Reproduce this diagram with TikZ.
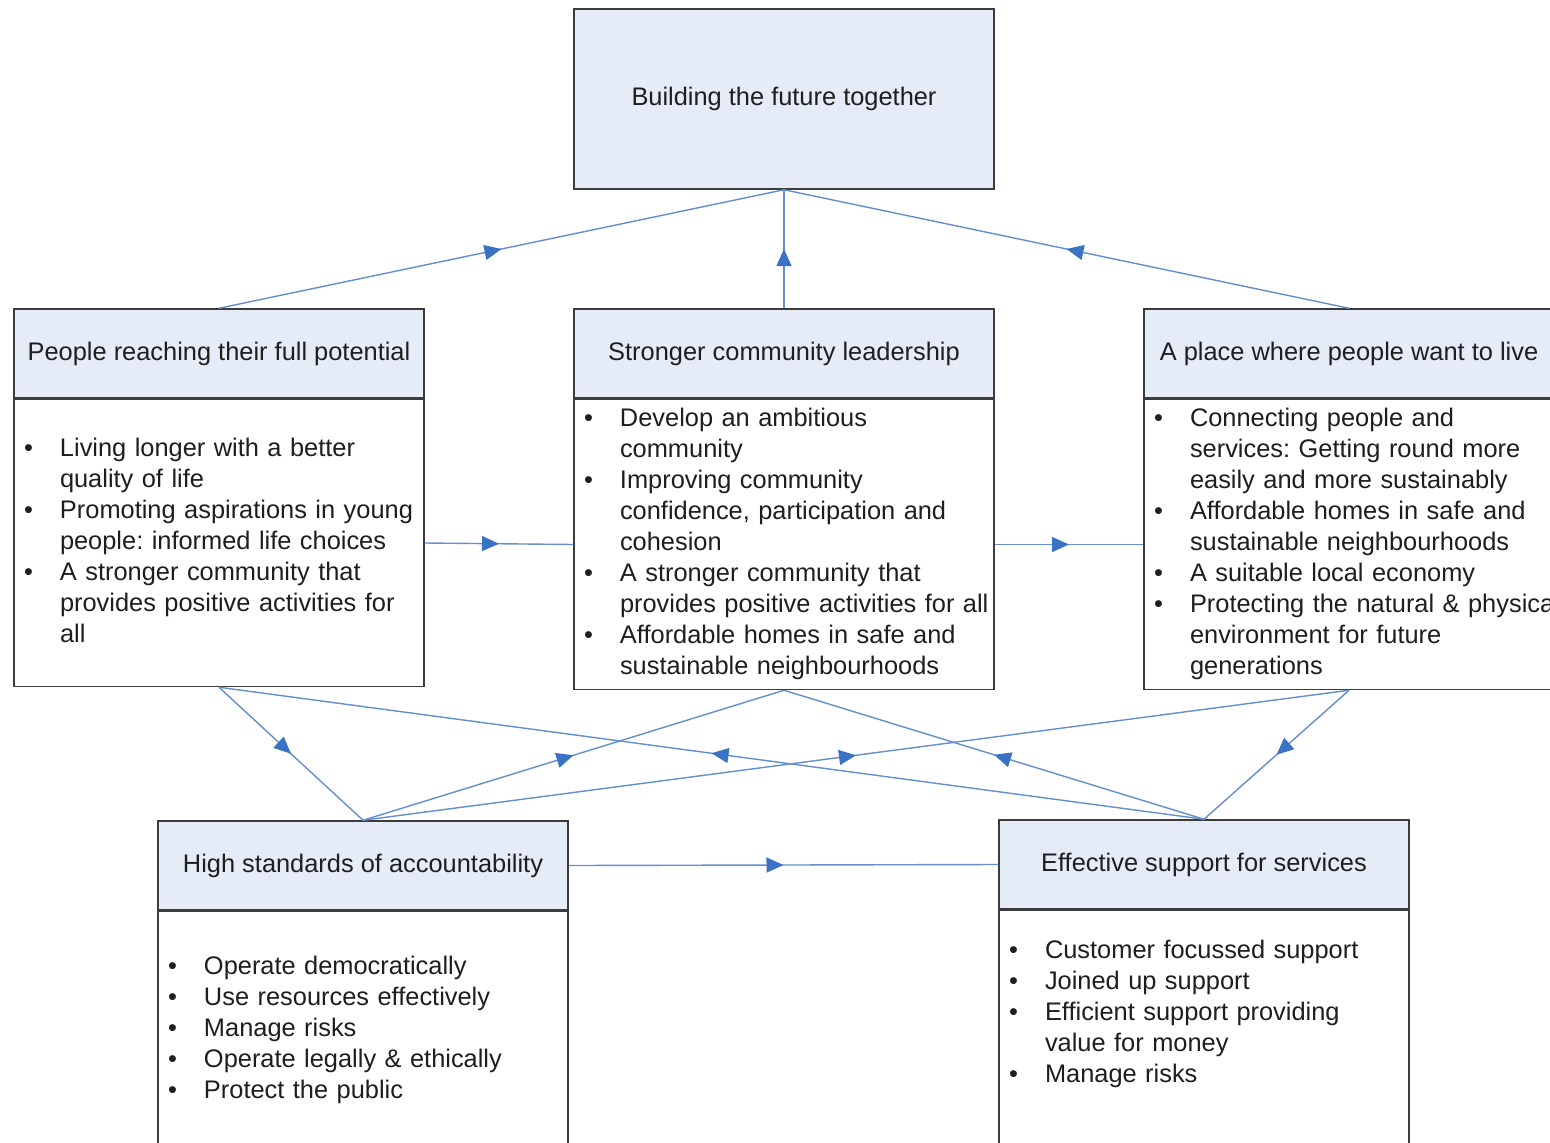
\documentclass[tikz,border=0pt]{standalone}
\usepackage{fontspec}
\setmainfont{Liberation Sans}
\usetikzlibrary{arrows.meta,positioning,decorations.markings}
\setlength{\parindent}{0pt}
\frenchspacing

\definecolor{headfill}{RGB}{229,236,248}
\definecolor{boxline}{RGB}{60,60,60}
\definecolor{linkblue}{RGB}{100,142,206}
\definecolor{tipblue}{RGB}{58,114,196}
\definecolor{inktext}{RGB}{30,30,30}

\tikzstyle{head} = [rectangle, draw=boxline, line width=1.5pt, fill=headfill,
    minimum width=410pt, minimum height=89pt, align=center, text=inktext]
\tikzstyle{body} = [rectangle, draw=boxline, line width=1.5pt, fill=white,
    minimum width=410pt, text width=390pt, inner xsep=10pt, align=left, text=inktext]
\tikzstyle{flow} = [draw=linkblue, line width=1.4pt, postaction={decorate},
    decoration={markings, mark=at position 0.5 with
      {\arrow{Triangle[length=17pt,width=15pt,color=tipblue]}}}]

\newcommand{\bul}{\textbullet}

\begin{document}
\begin{tikzpicture}[x=1pt,y=-1pt,node distance=0pt,
                    font=\fontsize{25.4}{31}\selectfont]

  \useasboundingbox[fill=white] (0,0) rectangle (1550,1143);

  % goal at the top
  \node[head, minimum width=420pt, minimum height=180pt] (goal) at (784,99)
       {Building the future together};

  % three themes
  \node[head]                      (hl) at (219,353.5)  {People reaching their full potential};
  \node[head, minimum width=420pt] (hm) at (784,353.5)  {Stronger community leadership};
  \node[head]                      (hr) at (1349,353.5) {A place where people want to live};

  \node[body, minimum height=287pt] (pl) [below=of hl] {%
    \begin{tabular}{@{}p{36pt}@{}l@{}}
      \bul & Living longer with a better\\
           & quality of life\\
      \bul & Promoting aspirations in young\\
           & people: informed life choices\\
      \bul & A stronger community that\\
           & provides positive activities for\\
           & all
    \end{tabular}};
  \node[body, minimum width=420pt, text width=400pt, minimum height=290pt] (pm) [below=of hm] {%
    \begin{tabular}{@{}p{36pt}@{}l@{}}
      \bul & Develop an ambitious\\
           & community\\
      \bul & Improving community\\
           & confidence, participation and\\
           & cohesion\\
      \bul & A stronger community that\\
           & provides positive activities for all\\
      \bul & Affordable homes in safe and\\
           & sustainable neighbourhoods
    \end{tabular}};
  \node[body, minimum height=290pt] (pr) [below=of hr] {%
    \begin{tabular}{@{}p{36pt}@{}l@{}}
      \bul & Connecting people and\\
           & services: Getting round more\\
           & easily and more sustainably\\
      \bul & Affordable homes in safe and\\
           & sustainable neighbourhoods\\
      \bul & A suitable local economy\\
      \bul & Protecting the natural \& physical\\
           & environment for future\\
           & generations
    \end{tabular}};

  % two supporting boxes
  \node[head] (hbl) at (363,865.5)  {High standards of accountability};
  \node[head] (hbr) at (1204,864.5) {Effective support for services};

  \node[body, minimum height=260pt] (pbl) [below=of hbl] {%
    \begin{tabular}{@{}p{36pt}@{}l@{}}
      \bul & Operate democratically\\
      \bul & Use resources effectively\\
      \bul & Manage risks\\
      \bul & Operate legally \& ethically\\
      \bul & Protect the public\\[22pt]
    \end{tabular}};
  \node[body, minimum height=260pt] (pbr) [below=of hbr] {%
    \begin{tabular}{@{}p{36pt}@{}l@{}}
      \bul & Customer focussed support\\
      \bul & Joined up support\\
      \bul & Efficient support providing\\
           & value for money\\
      \bul & Manage risks\\[52pt]
    \end{tabular}};

  \path (hl.north)  edge[flow] (goal.south)
        (hm.north)  edge[flow] (goal.south)
        (hr.north)  edge[flow] (goal.south)
        (pl.east)   edge[flow] (pm.west)
        (pm.east)   edge[flow] (pr.west)
        (pl.south)  edge[flow] (hbl.north)
        (hbr.north) edge[flow] (pl.south)
        (hbl.north) edge[flow] (pm.south)
        (hbr.north) edge[flow] (pm.south)
        (hbl.north) edge[flow] (pr.south)
        (pr.south)  edge[flow] (hbr.north)
        (hbl.east)  edge[flow] (hbr.west);
\end{tikzpicture}
\end{document}
